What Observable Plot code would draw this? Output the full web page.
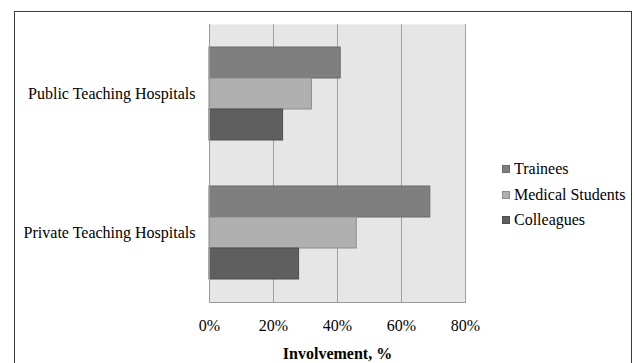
<!DOCTYPE html>
<html><head><meta charset="utf-8">
<script src="https://cdn.jsdelivr.net/npm/d3@7"></script>
<script src="https://cdn.jsdelivr.net/npm/@observablehq/plot@0.6"></script>
<style>
body{margin:0;background:#fff;font-family:'Liberation Serif',serif;}
#wrap{position:relative;width:635px;height:363px;overflow:hidden;}
#border{position:absolute;left:14px;top:11px;width:618px;height:400px;border:1.5px solid #3a3a3a;box-sizing:border-box;}
#chart{position:absolute;left:0;top:0;}
#legend{position:absolute;left:502px;top:156px;font-size:16px;color:#000;font-family:'Liberation Serif',serif;}
.item{display:flex;align-items:center;height:25.8px;white-space:nowrap;}
.sw{width:8px;height:8px;margin-right:4px;box-sizing:border-box;}
g[aria-label="x-axis label"] text{font-weight:bold;}
</style></head><body>
<div id="wrap"><div id="border"></div><div id="chart"></div><div id="legend"></div></div>
<script>
const hospitals = ["Public Teaching Hospitals", "Private Teaching Hospitals"];
const series = ["Trainees", "Medical Students", "Colleagues"];
const trainees = [41, 69];
const medicalStudents = [32, 46];
const colleagues = [23, 28];
const xTicks = [0, 20, 40, 60, 80];
const colors = ["#7f7f7f", "#b0b0b0", "#5f5f5f"];
const strokes = ["#6a6a6a", "#8c8c8c", "#4e4e4e"];
const FONT = "'Liberation Serif', serif";

const values = [trainees, medicalStudents, colleagues];
const data = [];
hospitals.forEach((h, i) => series.forEach((s, j) => data.push({hospital: h, series: s, value: values[j][i]})));

const chart = Plot.plot({
  width: 635, height: 363,
  marginLeft: 209, marginRight: 170, marginTop: 24, marginBottom: 61,
  style: {fontFamily: FONT, fontSize: "16px", color: "#000", background: "transparent", overflow: "visible"},
  x: {domain: [0, 80], label: "Involvement, %"},
  y: {domain: series, paddingInner: 0, paddingOuter: 0.72, axis: null},
  fy: {domain: hospitals, padding: 0, label: null},
  marks: [
    Plot.frame({fill: "#e6e6e6", facet: "super"}),
    Plot.gridX(xTicks.slice(1), {stroke: "#a0a0a0", strokeOpacity: 1}),
    ...series.map((s, j) => Plot.barX(data.filter(d => d.series === s), {x: "value", y: "series", fy: "hospital", fill: colors[j], stroke: strokes[j], strokeWidth: 1})),
    Plot.ruleX([0], {stroke: "#999"}),
    Plot.frame({anchor: "bottom", facet: "super", stroke: "#999", strokeOpacity: 1}),
    Plot.axisX(xTicks, {tickFormat: d => d + "%", tickSize: 0, tickPadding: 17, fontSize: 16, label: "Involvement, %", labelAnchor: "center", labelArrow: "none", labelOffset: 56}),
    Plot.axisFy({anchor: "left", tickSize: 0, tickPadding: 14, fontSize: 16, label: null})
  ]
});
document.getElementById("chart").appendChild(chart);

const legend = d3.select("#legend");
series.forEach((s, j) => {
  const it = legend.append("div").attr("class", "item");
  it.append("div").attr("class", "sw").style("background", colors[j]).style("border", "1px solid " + strokes[j]);
  it.append("span").text(s);
});
</script>
</body></html>
